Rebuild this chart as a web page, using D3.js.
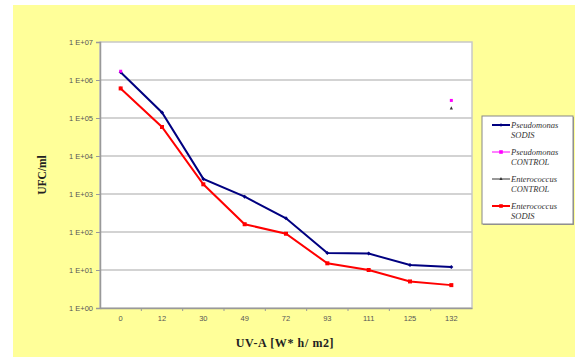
<!DOCTYPE html>
<html><head><meta charset="utf-8">
<script src="https://cdn.jsdelivr.net/npm/d3@7"></script>
<style>body{margin:0;background:#fff}svg{display:block}</style>
</head><body>
<svg id="c" width="576" height="358"></svg>
<script>
const categories = ["0","12","30","49","72","93","111","125","132"];
const pseudoSodis = [1.6e6, 1.4e5, 2.5e3, 8.5e2, 2.3e2, 28, 27, 13.5, 12];
const pseudoControl = [1.7e6, null, null, null, null, null, null, null, 2.9e5];
const enteroControl = [6e5, null, null, null, null, null, null, null, 1.8e5];
const enteroSodis = [6e5, 5.8e4, 1.8e3, 160, 90, 15, 10, 5, 4];
const yTicks = [1e0,1e1,1e2,1e3,1e4,1e5,1e6,1e7];
const yTickLabels = ["1 E+00","1 E+01","1 E+02","1 E+03","1 E+04","1 E+05","1 E+06","1 E+07"];
const seriesNames = [["Pseudomonas","SODIS"],["Pseudomonas","CONTROL"],["Enterococcus","CONTROL"],["Enterococcus","SODIS"]];
const xTitle = "UV-A [W* h/ m2]";
const yTitle = "UFC/ml";

const series = [
  {name: seriesNames[0], values: pseudoSodis, color: "#000080", marker: "diamond", line: true, size: 2},
  {name: seriesNames[1], values: pseudoControl, color: "#FF00FF", marker: "square", line: false, size: 1.5},
  {name: seriesNames[2], values: enteroControl, color: "#333333", marker: "triangle", line: false, size: 1.6},
  {name: seriesNames[3], values: enteroSodis, color: "#FF0000", marker: "square", line: true, size: 2}
];

const svg = d3.select("#c");
svg.append("rect").attr("x",13).attr("y",5).attr("width",562).attr("height",352).attr("fill","#FFFF99");

const L=100, R=472, T=42, B=308;
const x = d3.scaleBand().domain(categories).range([L,R]);
const y = d3.scaleLog().domain([1,1e7]).range([B,T]);

svg.append("rect").attr("x",L).attr("y",T).attr("width",R-L).attr("height",B-T).attr("fill","#fff").attr("stroke","#c8c8c8").attr("stroke-width",1.5);

// gridlines
svg.append("g").selectAll("line").data(yTicks.slice(1,-1)).join("line")
  .attr("x1",L).attr("x2",R).attr("y1",d=>y(d)).attr("y2",d=>y(d))
  .attr("stroke","#c4c4c4").attr("stroke-width",1.5);

// y axis
const ya = svg.append("g").attr("transform",`translate(${L},0)`)
  .call(d3.axisLeft(y).tickValues(yTicks).tickFormat((d,i)=>yTickLabels[i]).tickSize(4).tickPadding(3));
ya.select(".domain").attr("stroke","#999").attr("stroke-width",1.5);
ya.selectAll(".tick line").attr("stroke","#999");
ya.selectAll("text").attr("font-family","Liberation Sans, Arial, sans-serif").attr("font-size",7.5).attr("fill","#555");

// x axis
const xa = svg.append("g").attr("transform",`translate(0,${B})`)
  .call(d3.axisBottom(x).tickSize(0).tickPadding(8));
xa.select(".domain").attr("stroke","#999").attr("stroke-width",1.5);
xa.selectAll("text").attr("font-family","Liberation Sans, Arial, sans-serif").attr("font-size",7.5).attr("fill","#555");
svg.append("g").selectAll("line").data(categories.slice(1)).join("line")
  .attr("x1",d=>x(d)).attr("x2",d=>x(d)).attr("y1",B).attr("y2",B+3).attr("stroke","#999");

// titles
svg.append("text").attr("x",285).attr("y",347).attr("text-anchor","middle")
  .attr("font-family","Liberation Serif, Times New Roman, serif").attr("font-weight","bold").attr("font-size",12)
  .attr("letter-spacing",0.6).attr("fill","#222").text(xTitle);
svg.append("text").attr("transform",`translate(46,${(T+B)/2}) rotate(-90)`).attr("text-anchor","middle")
  .attr("font-family","Liberation Serif, Times New Roman, serif").attr("font-weight","bold").attr("font-size",11.5).attr("fill","#222").text(yTitle);

function drawMarker(g, type, cx, cy, color, s){
  if(type==="diamond") g.append("path").attr("d",`M${cx},${cy-s}L${cx+s},${cy}L${cx},${cy+s}L${cx-s},${cy}Z`).attr("fill",color);
  else if(type==="square") g.append("rect").attr("x",cx-s).attr("y",cy-s).attr("width",2*s).attr("height",2*s).attr("fill",color);
  else g.append("path").attr("d",`M${cx},${cy-s-0.5}L${cx+s},${cy+s-0.5}L${cx-s},${cy+s-0.5}Z`).attr("fill",color);
}

const cx = d=>x(d)+x.bandwidth()/2;
const plot = svg.append("g");
series.forEach(s=>{
  const pts = categories.map((c,i)=>({c,v:s.values[i]})).filter(p=>p.v!=null);
  if(s.line){
    plot.append("path").datum(pts).attr("fill","none").attr("stroke",s.color).attr("stroke-width",2)
      .attr("d",d3.line().x(p=>cx(p.c)).y(p=>y(p.v)));
  }
  pts.forEach(p=>drawMarker(plot, s.marker, cx(p.c), y(p.v), s.color, s.size));
});

// legend
const lg = svg.append("g");
lg.append("rect").attr("x",483).attr("y",117).attr("width",91).attr("height",108).attr("fill","#999");
lg.append("rect").attr("x",482).attr("y",116).attr("width",91).attr("height",108).attr("fill","#fff").attr("stroke","#888").attr("stroke-width",1);
series.forEach((s,i)=>{
  const yy = 125 + i*27;
  lg.append("line").attr("x1",492).attr("x2",510).attr("y1",yy).attr("y2",yy).attr("stroke",s.color).attr("stroke-width",s.line?2:1);
  drawMarker(lg, s.marker, 501, yy, s.color, s.marker==="triangle"?1.6:1.8);
  const t = lg.append("text").attr("x",511).attr("y",yy+2.5)
    .attr("font-family","Liberation Serif, Times New Roman, serif").attr("font-style","italic").attr("font-size",8.5).attr("fill","#333");
  t.append("tspan").attr("x",511).text(s.name[0]);
  t.append("tspan").attr("x",511).attr("dy",10).text(s.name[1]);
});
</script>
</body></html>
